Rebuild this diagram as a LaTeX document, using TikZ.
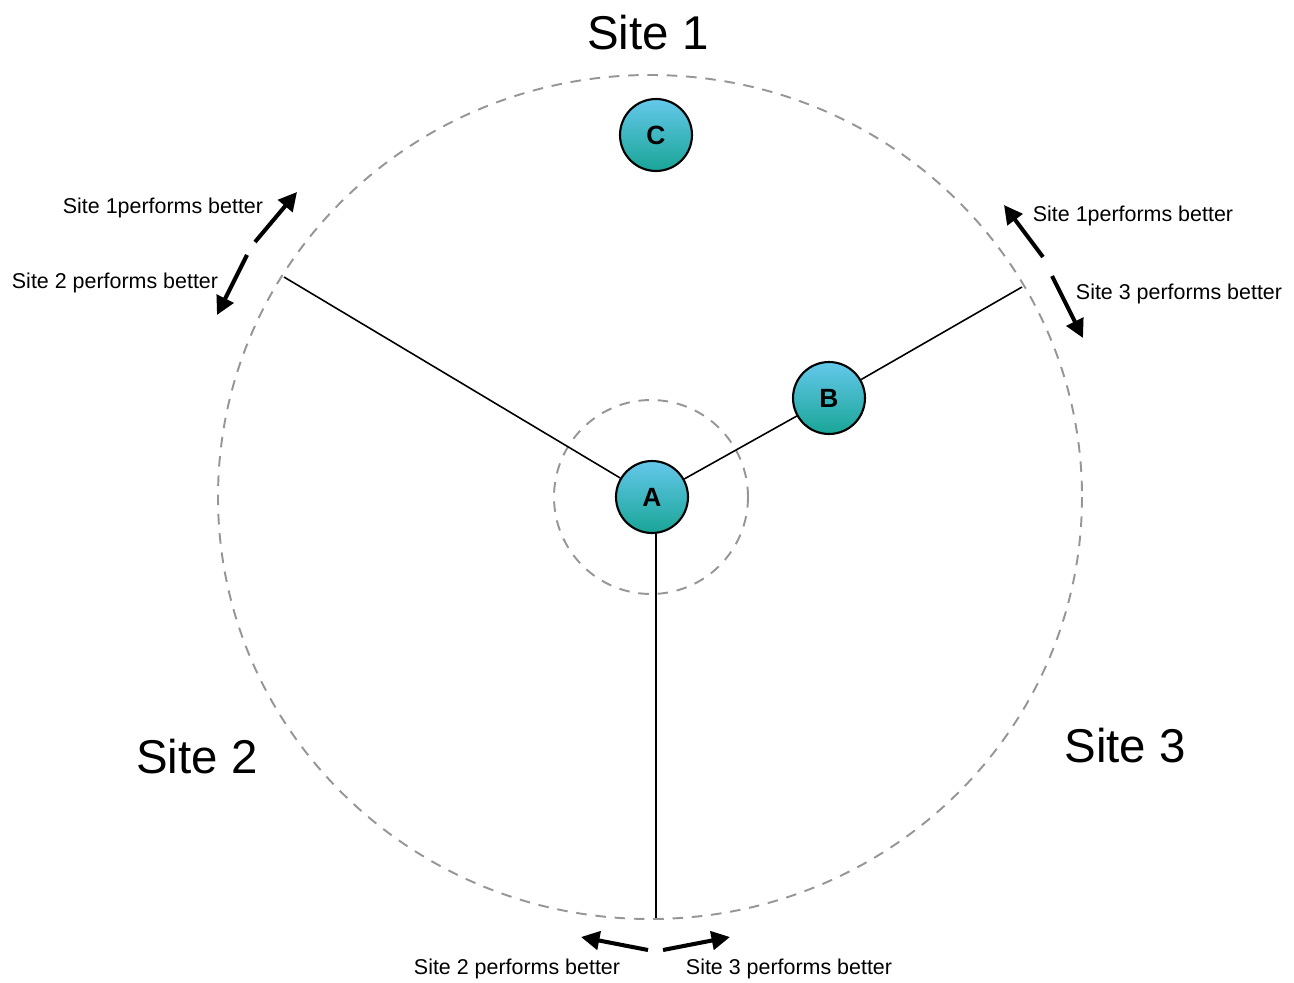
\documentclass[tikz,border=0pt]{standalone}
\usepackage{fontspec}
\setmainfont{Liberation Sans}
\usetikzlibrary{arrows.meta}
\tikzset{
  sitenode/.style={circle, draw=black, line width=1.2pt, minimum size=1.44cm, inner sep=0pt,
    top color={rgb,255:red,100;green,200;blue,235}, bottom color={rgb,255:red,25;green,165;blue,150},
    font=\bfseries\fontsize{15}{17}\selectfont},
  ring/.style={draw={rgb,255:red,150;green,150;blue,150}, line width=1.1pt, dash pattern=on 6pt off 5pt},
  spoke/.style={draw=black, line width=0.9pt},
  bigarrow/.style={line width=2.3pt, -{Triangle[length=10.5pt,width=10.5pt]}},
  small/.style={font=\fontsize{12.2}{14}\selectfont, inner sep=0pt},
  big/.style={font=\fontsize{27}{30}\selectfont, inner sep=0pt}
}
\begin{document}
\begin{tikzpicture}[x=0.02cm,y=-0.02cm]
\useasboundingbox (0,0) rectangle (1294,983);
\draw[ring] (650,497) ellipse [x radius=432, y radius=422];
\draw[ring] (651,497) circle [radius=97];
\coordinate (p1) at (284,277);
\coordinate (p2) at (1022,287);
\coordinate (p3) at (656,918);
\node[sitenode] (A) at (652,497) {A};
\node[sitenode] (B) at (829,398) {B};
\node[sitenode] (C) at (656,135) {C};
\draw[spoke] (A) -- (p1);
\draw[spoke] (A) -- (B);
\draw[spoke] (B) -- (p2);
\draw[spoke] (A.south -| p3) -- (p3);
% big labels
\node[big] (s1) at (648,33) {Site 1};
\node[big] (s2) at (197,757) {Site 2};
\node[big] (s3) at (1125,746) {Site 3};
% upper left arrows
\coordinate (ul1a) at (255,242); \coordinate (ul1b) at (297,192);
\coordinate (ul2a) at (247,255); \coordinate (ul2b) at (217,315);
\draw[bigarrow] (ul1a) -- (ul1b);
\draw[bigarrow] (ul2a) -- (ul2b);
\node[small] (t1) at (163,208) {Site 1performs better};
\node[small] (t2) at (115,283) {Site 2 performs better};
% upper right arrows
\coordinate (ur1a) at (1043,257); \coordinate (ur1b) at (1004,205);
\coordinate (ur2a) at (1052,276); \coordinate (ur2b) at (1083,338);
\draw[bigarrow] (ur1a) -- (ur1b);
\draw[bigarrow] (ur2a) -- (ur2b);
\node[small] (t3) at (1133,216) {Site 1performs better};
\node[small] (t4) at (1179,294) {Site 3 performs better};
% bottom arrows
\coordinate (b1a) at (648,950); \coordinate (b1b) at (581,937);
\coordinate (b2a) at (663,950); \coordinate (b2b) at (730,937);
\draw[bigarrow] (b1a) -- (b1b);
\draw[bigarrow] (b2a) -- (b2b);
\node[small] (t5) at (517,969) {Site 2 performs better};
\node[small] (t6) at (789,969) {Site 3 performs better};
\end{tikzpicture}
\end{document}
